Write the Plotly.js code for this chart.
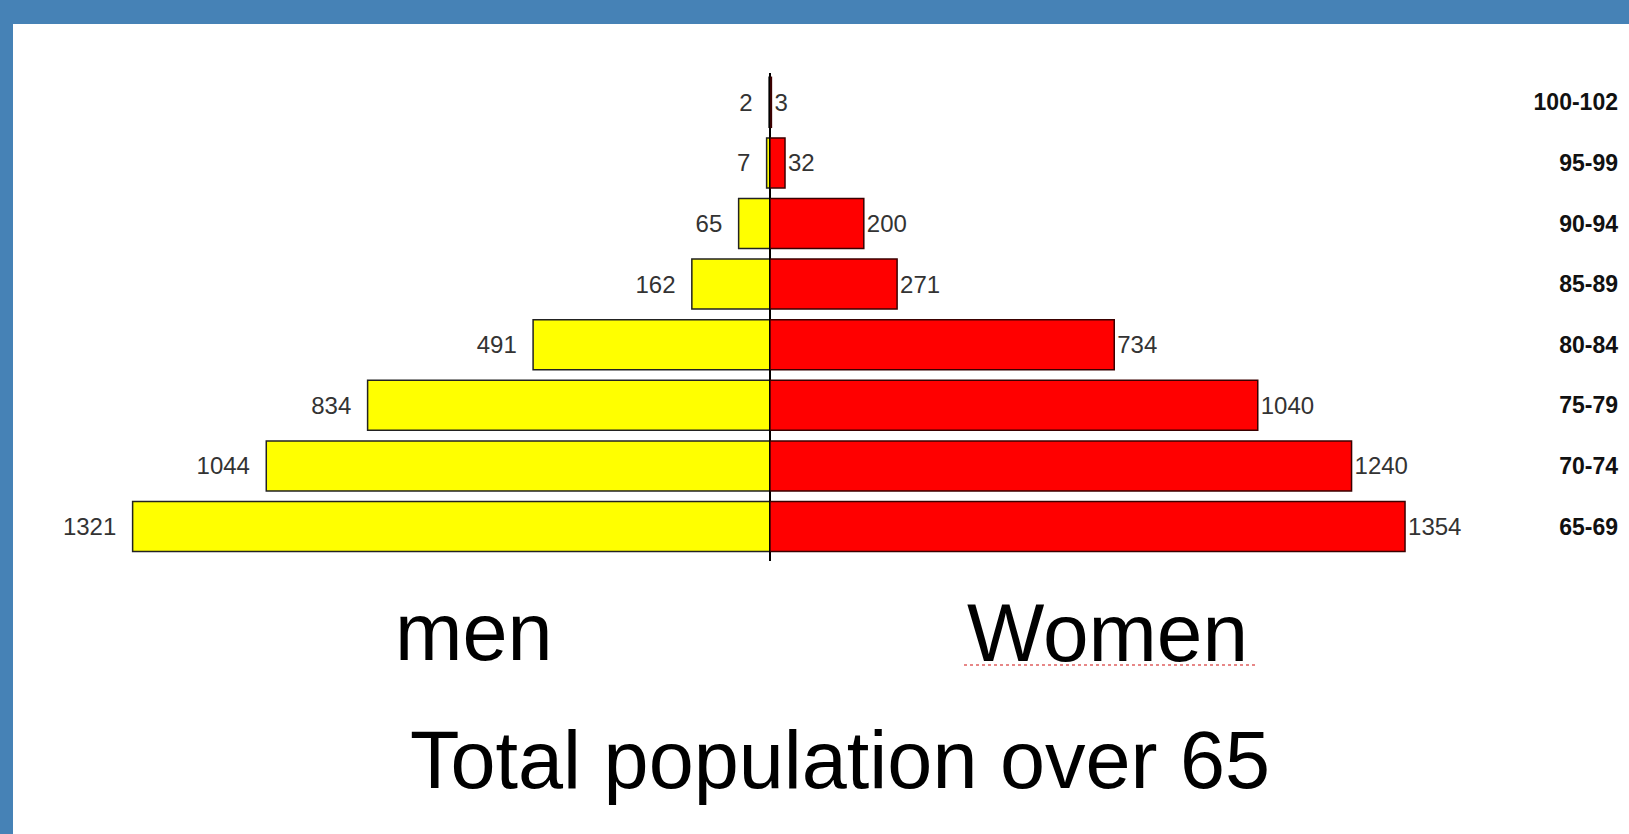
<!DOCTYPE html>
<html>
<head>
<meta charset="utf-8">
<script src="https://cdn.plot.ly/plotly-3.0.1.min.js"></script>
<style>html,body{margin:0;padding:0;background:#fff;}#chart{width:1629px;height:834px;}</style>
</head>
<body>
<div id="chart"></div>
<script>
var ages = ['65-69', '70-74', '75-79', '80-84', '85-89', '90-94', '95-99', '100-102'];
var men = [1321, 1044, 834, 491, 162, 65, 7, 2];
var women = [1354, 1240, 1040, 734, 271, 200, 32, 3];
var sideLabels = ['men', 'Women'];
var titleText = 'Total population over 65';

var W = 1629, H = 834;
var cx = 770;
var labelFont = {family: 'Liberation Sans, Arial, sans-serif', size: 24, color: '#333333'};
var NB = '\u00a0\u00a0';

var menTrace = {
  type: 'bar', orientation: 'h',
  x: men.map(function (v) { return -v; }), y: ages,
  xaxis: 'x', yaxis: 'y',
  text: men.map(function (v) { return String(v) + NB; }), textposition: 'outside', cliponaxis: false,
  outsidetextfont: labelFont, textfont: labelFont,
  marker: {color: '#ffff00', line: {color: '#222222', width: 1.5}},
  width: 0.825, hoverinfo: 'skip'
};
var womenTrace = {
  type: 'bar', orientation: 'h',
  x: women, y: ages,
  xaxis: 'x2', yaxis: 'y',
  text: women.map(String), textposition: 'outside', cliponaxis: false,
  outsidetextfont: labelFont, textfont: labelFont,
  marker: {color: '#ff0000', line: {color: '#3a0000', width: 1.5}},
  width: 0.825, hoverinfo: 'skip'
};

var xr = 1621;
var yBot = 561, yTop = 73, row0 = 526.5, step = 60.6;
var r0 = -(yBot - row0) / step;
var r1 = r0 + (yBot - yTop) / step;

var layout = {
  width: W, height: H,
  margin: {l: 0, r: 0, t: 0, b: 0, pad: 0},
  paper_bgcolor: '#ffffff', plot_bgcolor: 'rgba(0,0,0,0)',
  showlegend: false,
  xaxis: {domain: [0, cx / W], range: [-cx / 0.4825, 0], anchor: 'y',
          showgrid: false, zeroline: false, showticklabels: false, ticks: '', showline: false, fixedrange: true},
  xaxis2: {domain: [cx / W, xr / W], range: [0, (xr - cx) / 0.469], anchor: 'y',
           showgrid: false, zeroline: true, zerolinecolor: '#000000', zerolinewidth: 1.5,
           showticklabels: false, ticks: '', showline: false, fixedrange: true},
  yaxis: {type: 'category', categoryorder: 'array', categoryarray: ages,
          domain: [1 - yBot / H, 1 - yTop / H], range: [r0, r1],
          anchor: 'x2', side: 'right', ticklabelposition: 'inside', ticks: '',
          showgrid: false, zeroline: false, showline: false,
          tickfont: {family: 'Liberation Sans, Arial, sans-serif', size: 23, color: '#111111', weight: 700}},
  bargap: 0,
  shapes: [
    {type: 'rect', xref: 'paper', yref: 'paper', x0: 0, x1: 1, y0: 1 - 24 / H, y1: 1,
     fillcolor: '#4682b6', line: {width: 0}},
    {type: 'rect', xref: 'paper', yref: 'paper', x0: 0, x1: 13 / W, y0: 0, y1: 1,
     fillcolor: '#4682b6', line: {width: 0}},
    {type: 'line', xref: 'paper', yref: 'paper', x0: 964 / W, x1: 1255 / W, y0: 1 - 665 / H, y1: 1 - 665 / H,
     line: {color: '#e06060', width: 1.5, dash: 'dot'}}
  ],
  annotations: [
    {xref: 'paper', yref: 'paper', x: 474 / W, y: 1 - 632 / H, text: sideLabels[0], showarrow: false,
     xanchor: 'center', yanchor: 'middle', font: {family: 'Liberation Sans, Arial, sans-serif', size: 81, color: '#000'}},
    {xref: 'paper', yref: 'paper', x: 1107 / W, y: 1 - 632 / H, text: sideLabels[1], showarrow: false,
     xanchor: 'center', yanchor: 'middle', font: {family: 'Liberation Sans, Arial, sans-serif', size: 82, color: '#000'}},
    {xref: 'paper', yref: 'paper', x: 840 / W, y: 1 - 760 / H, text: titleText, showarrow: false,
     xanchor: 'center', yanchor: 'middle', font: {family: 'Liberation Sans, Arial, sans-serif', size: 81, color: '#000'}}
  ]
};

Plotly.newPlot('chart', [menTrace, womenTrace], layout, {displayModeBar: false, staticPlot: true});
</script>
</body>
</html>
